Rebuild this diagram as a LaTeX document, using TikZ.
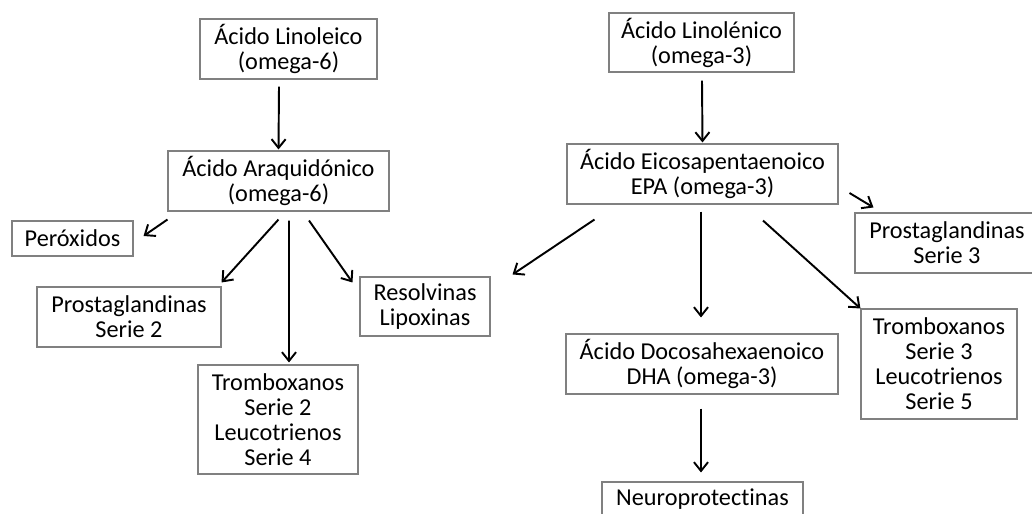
\documentclass[tikz,border=0pt]{standalone}
\usepackage{fontspec}
\setmainfont{Carlito}[Ligatures=NoCommon]
\usetikzlibrary{arrows.meta}
\definecolor{boxline}{rgb}{0.5,0.5,0.5}

\begin{document}
\begin{tikzpicture}[%
  x=0.02cm, y=-0.02cm,
  box/.style={draw=boxline, line width=0.6pt, align=center, inner sep=0pt,
    font=\fontsize{13.8}{14.2}\selectfont},
  arr/.style={line width=1.1pt, -{Straight Barb[length=5pt,width=8pt,line width=1.1pt]}},
]

  \clip (0,0) rectangle (1032,514);

  % omega-6
  \node[box, minimum width=177*0.02cm, minimum height=60*0.02cm] (lino6) at (288.5,49) {Ácido Linoleico\\(omega-6)};
  \node[box, minimum width=221*0.02cm, minimum height=60*0.02cm] (araq) at (278.5,181) {Ácido Araquidónico\\(omega-6)};
  \node[box, minimum width=121*0.02cm, minimum height=35*0.02cm] (perox) at (72.5,238.5) {Peróxidos};
  \node[box, minimum width=184*0.02cm, minimum height=60*0.02cm] (prost2) at (129,317) {Prostaglandinas\\Serie 2};
  \node[box, minimum width=160*0.02cm, minimum height=109*0.02cm] (tromb2) at (278,419.5) {Tromboxanos\\Serie 2\\Leucotrienos\\Serie 4};
  \node[box, minimum width=130*0.02cm, minimum height=59*0.02cm] (resol) at (425,306.5) {Resolvinas\\Lipoxinas};

  % omega-3
  \node[box, minimum width=185*0.02cm, minimum height=59*0.02cm] (lino3) at (701.5,42.5) {Ácido Linolénico\\(omega-3)};
  \node[box, minimum width=271*0.02cm, minimum height=60*0.02cm] (epa) at (702.5,174) {Ácido Eicosapentaenoico\\EPA (omega-3)};
  \node[box, minimum width=184*0.02cm, minimum height=60*0.02cm] (prost3) at (947,243) {Prostaglandinas\\Serie 3};
  \node[box, minimum width=272*0.02cm, minimum height=60*0.02cm] (dha) at (702,364) {Ácido Docosahexaenoico\\DHA (omega-3)};
  \node[box, minimum width=156*0.02cm, minimum height=110*0.02cm] (tromb3) at (939,364) {Tromboxanos\\Serie 3\\Leucotrienos\\Serie 5};
  \node[box, minimum width=201*0.02cm, minimum height=35*0.02cm] (neuro) at (702.5,499.5) {Neuroprotectinas};

  \draw[arr] ([shift={(-9.5,7)}]lino6.south) -- ([shift={(0,-1)}]araq.north);
  \draw[arr] ([shift={(0,8)}]araq.south west) -- ([shift={(10,-2.5)}]perox.east);
  \draw[arr] ([shift={(0,8)}]araq.south) -- ([shift={(0,-4)}]prost2.north east);
  \draw[arr] ([shift={(10.5,9)}]araq.south) -- ([shift={(11,-2)}]tromb2.north);
  \draw[arr] ([shift={(30.5,9)}]araq.south) -- ([shift={(-7,6)}]resol.north west);

  \draw[arr] ([shift={(0.5,8)}]lino3.south) -- ([shift={(0,-1)}]epa.north);
  \draw[arr] ([shift={(11,19)}]epa.east) -- ([shift={(19,-5)}]prost3.north west);
  \draw[arr] ([shift={(28,15)}]epa.south west) -- ([shift={(22,-2)}]resol.north east);
  \draw[arr] ([shift={(-1.5,7)}]epa.south) -- ([shift={(-1,-16)}]dha.north);
  \draw[arr] ([shift={(60.5,16)}]epa.south) -- (tromb3.north west);
  \draw[arr] ([shift={(-1,14)}]dha.south) -- ([shift={(-1.5,-9)}]neuro.north);

\end{tikzpicture}
\end{document}
